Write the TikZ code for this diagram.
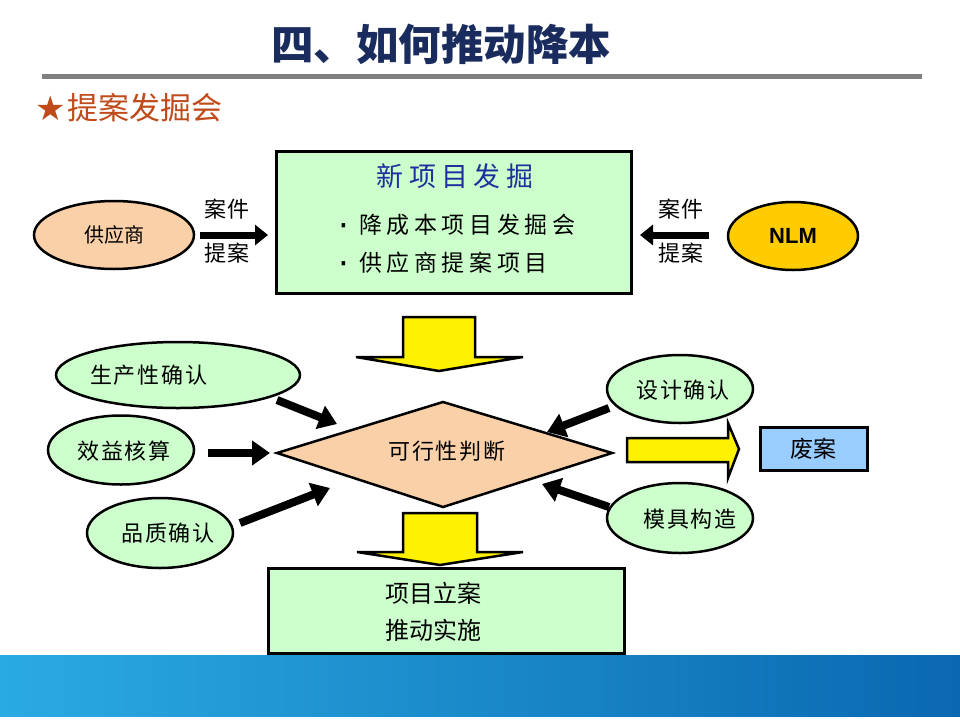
\documentclass[tikz,border=0pt]{standalone}
\usepackage{fontspec}
\usetikzlibrary{arrows.meta,shapes.geometric}
\newfontfamily\cjk{Noto Sans CJK SC}
\newfontfamily\cjkwide[LetterSpace=20]{Noto Sans CJK SC}
\newfontfamily\cjkmid[LetterSpace=8]{Noto Sans CJK SC}
\newfontfamily\symfont{DejaVu Sans}
\newfontfamily\arialb{Liberation Sans}
\definecolor{titleblue}{HTML}{1A2C5E}
\definecolor{subred}{HTML}{C04A1A}
\definecolor{lgreen}{HTML}{CCFFCC}
\definecolor{peach}{HTML}{FAD0A8}
\definecolor{gold}{HTML}{FFCC00}
\definecolor{headblue}{HTML}{1F2F9F}
\definecolor{lblue}{HTML}{99CCFF}
\definecolor{bandl}{HTML}{2AAAE2}
\definecolor{bandr}{HTML}{0A68B0}
\tikzset{
  greenell/.style={ellipse, draw=black, line width=2.5pt, fill=lgreen, inner sep=0pt},
  greenbox/.style={rectangle, draw=black, line width=3pt, fill=lgreen, inner sep=0pt},
  lbl/.style={font=\cjkmid\fontsize{22}{24}\selectfont, inner sep=0pt},
  thinarrow/.style={line width=7pt, -{Triangle[length=13pt,width=20pt]}},
  bigarrow/.style={line width=8pt, -{Triangle[length=18pt,width=24pt]}},
  yellowarr/.style={fill=yellow, draw=black, line width=2.5pt, line join=miter},
  dotlbl/.style={inner sep=0pt, font=\symfont\fontsize{34}{34}\selectfont}
}
\begin{document}
\begin{tikzpicture}[x=1pt,y=-1pt]
\useasboundingbox (0,0) rectangle (960,720);
\fill[white] (0,0) rectangle (960,720);
% header
\node[inner sep=0pt, text=titleblue, font=\cjk\bfseries\fontsize{42.5}{46}\selectfont] (title) at (441,44) {四、如何推动降本};
\fill[gray] (42,73.5) rectangle (922,78.5);
\node[inner sep=0pt, anchor=west, text=subred, font=\symfont\fontsize{34}{36}\selectfont] (star) at (35,108) {★};
\node[inner sep=0pt, anchor=west, text=subred, font=\cjk\fontsize{31}{34}\selectfont] (sub) at (67,108) {提案发掘会};
% bottom band
\shade[left color=bandl, right color=bandr] (0,655) rectangle (960,716.5);
% top box
\node[greenbox, minimum width=355pt, minimum height=142pt] (newbox) at (453.5,222) {};
\node[inner sep=0pt, text=headblue, font=\cjkwide\fontsize{27}{30}\selectfont] (newt) at (455,176) {新项目发掘};
\node[dotlbl] (d1) at (344,231) {·};
\node[inner sep=0pt, anchor=west, font=\cjkwide\fontsize{23}{26}\selectfont] (b1) at (359,225) {降成本项目发掘会};
\node[dotlbl] (d2) at (344,269) {·};
\node[inner sep=0pt, anchor=west, font=\cjkwide\fontsize{23}{26}\selectfont] (b2) at (359,263) {供应商提案项目};
% supplier
\node[ellipse, draw=black, line width=2.5pt, fill=peach, minimum width=160pt, minimum height=68pt, inner sep=0pt, font=\cjk\fontsize{20}{22}\selectfont] (sup) at (114,235) {供应商};
\node[ellipse, draw=black, line width=2.5pt, fill=gold, minimum width=130pt, minimum height=68pt, inner sep=0pt, font=\arialb\bfseries\fontsize{22}{24}\selectfont] (nlm) at (793,236) {NLM};
\coordinate (a1s) at (200,235);
\coordinate (a1e) at (268,235);
\draw[thinarrow] (a1s) -- (a1e);
\node[lbl] (l1a) at (227,209) {案件};
\node[lbl] (l1b) at (227,253) {提案};
\coordinate (a2s) at (709,235);
\coordinate (a2e) at (640,235);
\draw[thinarrow] (a2s) -- (a2e);
\node[lbl] (l2a) at (681,209) {案件};
\node[lbl] (l2b) at (681,253) {提案};
% yellow arrow 1
\draw[yellowarr] (403,317) -- (475,317) -- (475,357) -- (523,357) -- (439,371) -- (356,357) -- (403,357) -- cycle;
% diamond
\draw[fill=peach, line width=2.5pt, line join=miter] (277,453) -- (443,402) -- (612,453) -- (443,507) -- cycle;
\node[inner sep=0pt, font=\cjkmid\fontsize{22}{24}\selectfont] (judge) at (447,451) {可行性判断};
\coordinate (dia) at (443,453);
% yellow arrow 2
\draw[yellowarr] (403,513) -- (477,513) -- (477,552) -- (523,552) -- (440,565) -- (357,552) -- (403,552) -- cycle;
% bottom box
\node[greenbox, minimum width=356pt, minimum height=85pt] (proj) at (446,610.5) {};
\node[inner sep=0pt, font=\cjk\fontsize{24}{26}\selectfont] (p1) at (433,593) {项目立案};
\node[inner sep=0pt, font=\cjk\fontsize{24}{26}\selectfont] (p2) at (433,630) {推动实施};
% green ellipses
\node[greenell, minimum width=244pt, minimum height=66pt] (e1) at (178,375) {};
\node[lbl, anchor=west] at (90,375) {生产性确认};
\node[greenell, minimum width=146pt, minimum height=69pt] (e2) at (121,450) {};
\node[lbl] at (124,451) {效益核算};
\node[greenell, minimum width=146pt, minimum height=70pt] (e3) at (160,533) {};
\node[lbl] at (168,533) {品质确认};
\node[greenell, minimum width=146pt, minimum height=68pt] (e4) at (680,389) {};
\node[lbl] at (683,390) {设计确认};
\node[greenell, minimum width=146pt, minimum height=70pt] (e5) at (680,518) {};
\node[lbl] at (690,519) {模具构造};
% waste box
\node[rectangle, draw=black, line width=3pt, fill=lblue, minimum width=107pt, minimum height=43pt, inner sep=0pt, font=\cjk\fontsize{23}{24}\selectfont] (waste) at (813.5,448.5) {废案};
% right yellow arrow
\draw[yellowarr] (627,438) -- (728,438) -- (728,423) -- (739,449) -- (728,478) -- (728,462) -- (627,462) -- cycle;
% black arrows
\coordinate (t1) at (277,400); \coordinate (h1) at (337,424);
\coordinate (t2) at (208,453); \coordinate (h2) at (270,453);
\coordinate (t3) at (240,523); \coordinate (h3) at (330,488);
\coordinate (t4) at (609,408); \coordinate (h4) at (547,432);
\coordinate (t5) at (609,507); \coordinate (h5) at (542,484);
\draw[bigarrow] (t1) -- (h1);
\draw[bigarrow] (t2) -- (h2);
\draw[bigarrow] (t3) -- (h3);
\draw[bigarrow] (t4) -- (h4);
\draw[bigarrow] (t5) -- (h5);
\end{tikzpicture}
\end{document}
